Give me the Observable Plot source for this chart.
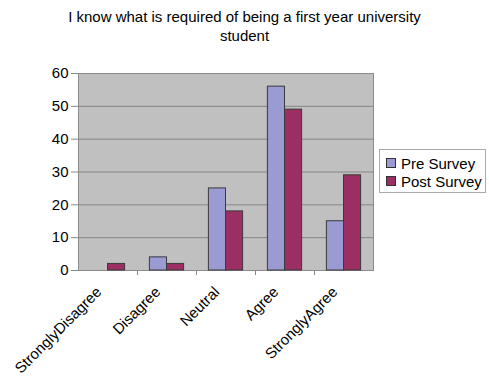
<!DOCTYPE html>
<html>
<head>
<meta charset="utf-8">
<script src="https://cdn.jsdelivr.net/npm/d3@7"></script>
<script src="https://cdn.jsdelivr.net/npm/@observablehq/plot@0.6"></script>
<style>
  body { margin: 0; background: #fff; }
  #chart { position: relative; width: 489px; height: 380px; font-family: "Liberation Sans", Arial, sans-serif; }
  #title { position: absolute; left: 0; top: 7px; width: 489px; text-align: center; font-size: 15px; line-height: 19px; color: #000; }
  #title span { display: block; }
  #plot { position: absolute; left: 0; top: 50px; }
  #legend { position: absolute; left: 379px; top: 149px; width: 107px; height: 44px; border: 1px solid #aaa; background: #fff; box-sizing: border-box; padding: 4px 0 0 6px; font-size: 15px; color: #000; }
  .row { display: flex; align-items: center; height: 18px; }
  .sw { width: 8px; height: 8px; border: 1px solid #333; margin-right: 5px; }
</style>
</head>
<body>
<div id="chart">
  <div id="title"></div>
  <div id="plot"></div>
  <div id="legend"></div>
</div>
<script>
const titleLines = ["I know what is required of being a first year university", "student"];
const categories = ["StronglyDisagree", "Disagree", "Neutral", "Agree", "StronglyAgree"];
const series = ["Pre Survey", "Post Survey"];
const preSurvey = [0, 4, 25, 56, 15];
const postSurvey = [2, 2, 18, 49, 29];
const colors = ["#9b9bd4", "#9b2f63"];
const yTicks = [0, 10, 20, 30, 40, 50, 60];

const width = 489, marginLeft = 78, marginRight = 116;
// Each category band holds two adjacent bars, with a gap on either side
const band = (width - marginLeft - marginRight) / categories.length;
const gap = band * 0.21;
const barW = (band - 2 * gap) / 2;

const rows = [];
categories.forEach((c, i) => {
  rows.push({category: c, series: series[0], value: preSurvey[i]});
  rows.push({category: c, series: series[1], value: postSurvey[i]});
});

d3.select("#title").selectAll("span").data(titleLines).join("span").text(d => d);

const chart = Plot.plot({
  width,
  height: 330,
  marginLeft,
  marginRight,
  marginTop: 23,
  marginBottom: 110,
  style: {fontFamily: "Liberation Sans, Arial, sans-serif", fontSize: "15px", color: "#000", background: "transparent"},
  x: {domain: categories, padding: 0, label: null},
  y: {type: "linear", domain: [0, 60], label: null},
  color: {domain: series, range: colors},
  marks: [
    Plot.frame({fill: "#c0c0c0", stroke: "#8c8c8c"}),
    Plot.ruleY(yTicks.slice(1, -1), {stroke: "#858585", strokeWidth: 1}),
    Plot.barY(rows.filter(d => d.series === series[0]), {x: "category", y: "value", fill: "series", stroke: "#3a3a3a", strokeWidth: 1, insetLeft: gap, insetRight: gap + barW}),
    Plot.barY(rows.filter(d => d.series === series[1]), {x: "category", y: "value", fill: "series", stroke: "#3a3a3a", strokeWidth: 1, insetLeft: gap + barW, insetRight: gap}),
    // category separators just below the baseline
    Plot.ruleX(categories.slice(1), {x: d => d, y1: 0, y2: 0, insetBottom: -5, dx: -band / 2, stroke: "#888", strokeWidth: 1}),
    Plot.axisY(yTicks, {tickSize: 7, tickPadding: 3, stroke: "#888", fontSize: 15}),
    Plot.axisX({tickSize: 0, tickRotate: -45, tickPadding: 8, dx: -9, dy: 11, fontSize: 15, label: null})
  ]
});
document.getElementById("plot").appendChild(chart);

const legend = d3.select("#legend").selectAll("div.row")
  .data(series).join("div").attr("class", "row");
legend.append("div").attr("class", "sw").style("background", (d, i) => colors[i]);
legend.append("span").text(d => d);
</script>
</body>
</html>
